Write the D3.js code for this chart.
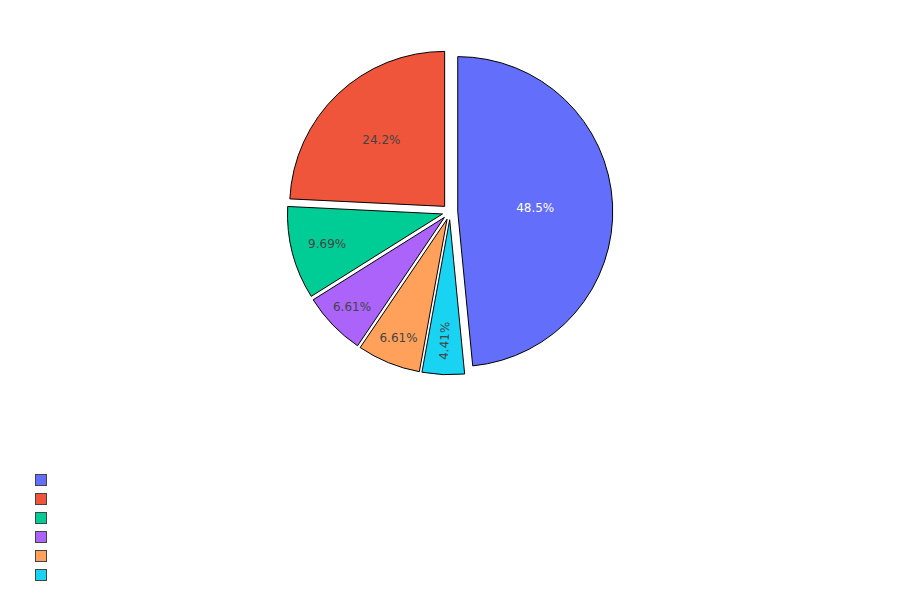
<!DOCTYPE html>
<html>
<head>
<meta charset="utf-8">
<script src="https://cdn.jsdelivr.net/npm/d3@7.9.0/dist/d3.min.js"></script>
<style>
  body { margin: 0; background: #fff; }
  svg { display: block; }
  .slice-label { font-family: "DejaVu Sans", Verdana, sans-serif; font-size: 12px; }
</style>
</head>
<body>
<div id="chart"></div>
<script>
// Data (counts; shares shown as percent)
const categories = ["", "", "", "", "", ""];   // legend carries no label text
const counts = [110, 55, 22, 15, 15, 10];
const colors = ["#636efa", "#EF553B", "#00cc96", "#ab63fa", "#FFA15A", "#19d3f3"];

const WIDTH = 900, HEIGHT = 600;
const cx = 450, cy = 212;      // pie centre
const radius = 155;
const pull = 0.05;             // every slice pulled out by 5% of radius
const TEXTPAD = 3;

const pctFmt = d3.format(".3~r");
const total = d3.sum(counts);

const svg = d3.select("#chart")
    .append("svg")
    .attr("width", WIDTH)
    .attr("height", HEIGHT);

// first slice ends at 12 o'clock going counterclockwise, like plotly
const firstAngle = 2 * Math.PI * counts[0] / total;
const pie = d3.pie()
    .sort(null)
    .value(d => d.value)
    .startAngle(firstAngle)
    .endAngle(firstAngle - 2 * Math.PI);

const data = counts.map((v, i) => ({ value: v, color: colors[i], name: categories[i] }));
const arcs = pie(data);

const arc = d3.arc().innerRadius(0).outerRadius(radius);

// brightness test for text contrast (same as tinycolor isLight)
function isLight(c) {
    const rgb = d3.rgb(c);
    return (rgb.r * 299 + rgb.g * 587 + rgb.b * 114) / 1000 >= 128;
}

const slices = svg.append("g")
    .selectAll("g.slice")
    .data(arcs)
    .join("g")
    .attr("class", "slice")
    .attr("transform", d => {
        const mid = (d.startAngle + d.endAngle) / 2;
        const dx = pull * radius * Math.sin(mid);
        const dy = -pull * radius * Math.cos(mid);
        return `translate(${cx + dx}, ${cy + dy})`;
    });

slices.append("path")
    .attr("d", arc)
    .attr("fill", d => d.data.color)
    .attr("stroke", "#000")
    .attr("stroke-width", 1);

// inside text placement, following plotly's fit rules
slices.each(function(d) {
    const g = d3.select(this);
    const mid = (d.startAngle + d.endAngle) / 2;
    const halfAngle = Math.abs(d.endAngle - d.startAngle) / 2;

    const txt = g.append("text")
        .attr("class", "slice-label")
        .attr("text-anchor", "middle")
        .attr("fill", isLight(d.data.color) ? "#444" : "#fff")
        .text(pctFmt(100 * d.data.value / total) + "%");

    const bb = txt.node().getBBox();
    const bcx = bb.x + bb.width / 2, bcy = bb.y + bb.height / 2;

    const rIns = Math.min(1 / (1 + 1 / Math.sin(halfAngle)), 0.5);
    const diam = Math.sqrt(bb.width * bb.width + bb.height * bb.height);
    let t = { scale: rIns * radius * 2 / diam, rCenter: 1 - rIns, rotate: 0 };

    if (t.scale < 1) {
        const r2 = radius - 2 * TEXTPAD;
        const a = bb.width / bb.height;
        const Q = a + 1 / (2 * Math.tan(halfAngle));
        const s = r2 * Math.min(1 / (Math.sqrt(Q * Q + 0.5) + Q), 1 / (Math.sqrt(a * a + 0.5) + a));
        const rad = {
            scale: s * 2 / bb.height,
            rCenter: Math.cos(s / r2) - a * s / r2,
            rotate: (180 / Math.PI * mid + 720) % 180 - 90
        };
        if (rad.scale > t.scale) t = rad;
    }
    const sc = Math.min(1, t.scale);
    const tx = t.rCenter * radius * Math.sin(mid);
    const ty = -t.rCenter * radius * Math.cos(mid);
    txt.attr("transform",
        `translate(${tx}, ${ty}) rotate(${t.rotate}) scale(${sc}) translate(${-bcx}, ${-bcy})`);
});

// legend: square swatches, no label text
const legend = svg.append("g")
    .attr("transform", "translate(35, 474)");

const items = legend.selectAll("g.item")
    .data(data)
    .join("g")
    .attr("class", "item")
    .attr("transform", (d, i) => `translate(0, ${i * 19})`);

items.append("rect")
    .attr("x", 0.5)
    .attr("y", 0.5)
    .attr("width", 11)
    .attr("height", 11)
    .attr("fill", d => d.color)
    .attr("stroke", "#444")
    .attr("stroke-width", 1);

items.append("text")
    .attr("x", 20)
    .attr("y", 10)
    .attr("font-family", "DejaVu Sans, sans-serif")
    .attr("font-size", 12)
    .attr("fill", "#444")
    .text(d => d.name);
</script>
</body>
</html>
